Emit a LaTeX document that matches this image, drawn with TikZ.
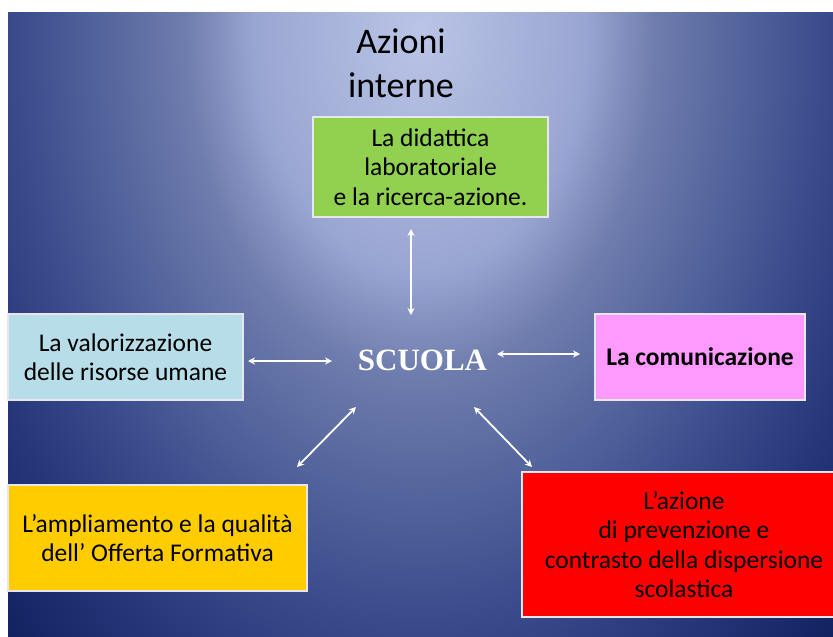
\documentclass[tikz,border=0pt]{standalone}
\usepackage{fontspec}
\setmainfont{Carlito}
\newfontfamily\tnr{Liberation Serif}
\usetikzlibrary{arrows.meta}
\definecolor{bg0}{RGB}{186,196,230}
\definecolor{bg1}{RGB}{154,166,210}
\definecolor{bg2}{RGB}{110,124,173}
\definecolor{bg3}{RGB}{60,78,141}
\definecolor{bg4}{RGB}{38,56,122}
\definecolor{bg5}{RGB}{10,28,88}
\definecolor{boxgreen}{HTML}{92D050}
\definecolor{boxblue}{HTML}{B7DDE8}
\definecolor{boxpink}{HTML}{FF99FF}
\definecolor{boxyellow}{HTML}{FFCC00}
\definecolor{boxred}{HTML}{FF0000}
\definecolor{boxedge}{RGB}{230,230,235}
\pgfdeclareradialshading{bgshade}{\pgfpoint{0bp}{0bp}}{color(0bp)=(bg0); color(12.5bp)=(bg1); color(18bp)=(bg2); color(30bp)=(bg3); color(36.7bp)=(bg4); color(46.7bp)=(bg5); color(50bp)=(bg5)}
\tikzset{
  panel/.style={draw=boxedge, line width=1.2pt, inner sep=0pt, align=center,
    font=\fontsize{25.5}{29.5}\selectfont, text=black},
  link/.style={draw=white, line width=1.8pt,
    {Stealth[length=7pt,width=7pt]}-{Stealth[length=7pt,width=7pt]}}
}
\begin{document}
\begin{tikzpicture}[x=1pt,y=-1pt]
\useasboundingbox (0,0) rectangle (833,637);
\fill[white] (0,0) rectangle (833,637);
\begin{scope}
\clip (8,12) rectangle (833,637);
\fill[bg5] (8,12) rectangle (833,637);
\begin{scope}[shift={(420,30)}, xscale=13.1, yscale=19.13]
\pgflowlevelsynccm
\pgfuseshading{bgshade}
\end{scope}
\end{scope}
% title
\node[anchor=north, inner sep=0pt, align=center, font=\fontsize{36}{44}\selectfont, text=black]
  (title) at (401,29) {Azioni\\interne};
% boxes
\node[panel, fill=boxgreen, minimum width=235pt, minimum height=100pt] (did) at (430.5,167) {La didattica\\laboratoriale\\ e la ricerca-azione.};
\node[panel, fill=boxblue, minimum width=235pt, minimum height=86pt] (val) at (125.5,357) {La valorizzazione\\delle risorse umane};
\node[panel, fill=boxpink, minimum width=210pt, minimum height=86pt, font=\fontsize{25.5}{29.5}\selectfont\bfseries] (com) at (700,357) {La comunicazione};
\node[panel, fill=boxred, minimum width=312pt, minimum height=145pt] (azi) at (678,544.5) {};
\node[inner sep=0pt, align=center, font=\fontsize{25.5}{29.5}\selectfont, text=black] (azitext) at (684,544.5) {L’azione\\di prevenzione e\\contrasto della dispersione\\scolastica};
\node[panel, fill=boxyellow, minimum width=299pt, minimum height=106pt] (amp) at (157.5,538) {L’ampliamento e la qualità\\dell’ Offerta Formativa};
% center
\node[inner sep=0pt, anchor=base, text=white, font=\tnr\bfseries\fontsize{31}{36}\selectfont] (sc) at (422.5,370) {SCUOLA};
% arrow ends
\coordinate (v1) at (411,229); \coordinate (v2) at (411,315);
\coordinate (l1) at (248,361); \coordinate (l2) at (332,361);
\coordinate (r1) at (497,354); \coordinate (r2) at (580,354);
\coordinate (d1) at (297,467); \coordinate (d2) at (356,407);
\coordinate (e1) at (474,407); \coordinate (e2) at (532,467);
\draw[link] (v1) -- (v2);
\draw[link] (l1) -- (l2);
\draw[link] (r1) -- (r2);
\draw[link] (d1) -- (d2);
\draw[link] (e1) -- (e2);
\end{tikzpicture}
\end{document}
